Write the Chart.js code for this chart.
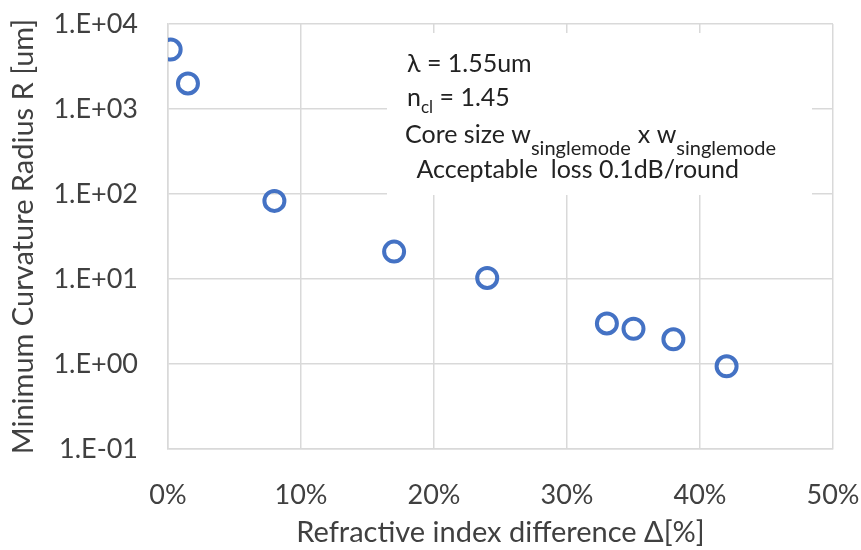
<!DOCTYPE html>
<html>
<head>
<meta charset="utf-8">
<script src="https://cdn.jsdelivr.net/npm/chart.js@4"></script>
<style>
  html, body { margin: 0; padding: 0; background: #fff; }
  #wrap { width: 861px; height: 550px; }
</style>
</head>
<body>
<div id="wrap"><canvas id="grafico"></canvas></div>
<script>
// refractive index difference [%] vs minimum bend radius [um]
const deltaPct = [0.2, 1.5, 8, 17, 24, 33, 35, 38, 42];
const raioMin = [5000, 2000, 83, 21, 10.3, 3.0, 2.6, 1.95, 0.94];
const decadas = [0.1, 1, 10, 100, 1000, 10000];
const ticksX = [0, 10, 20, 30, 40, 50];

const FONTE = 'Lato, "Open Sans", sans-serif';
const COR_TEXTO = '#404040';
const COR_GRADE = '#d9d9d9';

function formatoExp(v) {
    const e = Math.round(Math.log10(v));
    const s = e < 0 ? '-' : '+';
    return '1.E' + s + String(Math.abs(e)).padStart(2, '0');
}

// text box with the simulation conditions (subscripts drawn by hand)
const caixaTexto = {
    id: 'caixaTexto',
    afterDatasetsDraw(chart) {
        const ctx = chart.ctx;
        ctx.save();
        ctx.fillStyle = '#fff';
        ctx.fillRect(387, 33, 425, 162);
        ctx.fillStyle = '#222';
        ctx.textBaseline = 'alphabetic';
        const grande = '25px ' + FONTE;
        const trecho = (partes, x, y) => {
            partes.forEach(p => {
                ctx.font = p.sub ? p.sub + 'px ' + FONTE : grande;
                ctx.fillText(p.t, x, y + (p.sub ? p.dy : 0));
                x += ctx.measureText(p.t).width + (p.gap || 0);
            });
        };
        trecho([{ t: 'λ = 1.55um' }], 407, 72);
        trecho([{ t: 'n' }, { t: 'cl', sub: 17, dy: 7 }, { t: ' = 1.45' }], 407, 106);
        trecho([{ t: 'Core size ' }, { t: 'w' }, { t: 'singlemode', sub: 20, dy: 12, gap: 7 },
                { t: 'x ' }, { t: 'w' }, { t: 'singlemode', sub: 20, dy: 12 }], 405, 143);
        trecho([{ t: ' Acceptable  loss 0.1dB/round' }], 410, 178);
        ctx.restore();
    }
};

const ctx = document.getElementById('grafico').getContext('2d');
new Chart(ctx, {
    type: 'scatter',
    data: {
        datasets: [{
            data: deltaPct.map((x, i) => ({ x: x, y: raioMin[i] })),
            pointStyle: 'circle',
            pointRadius: 10,
            pointHoverRadius: 10,
            borderWidth: 4,
            borderColor: '#4472C4',
            backgroundColor: 'rgba(0,0,0,0)'
        }]
    },
    options: {
        responsive: true,
        maintainAspectRatio: false,
        animation: false,
        layout: { padding: { top: 24, right: 28, left: 0, bottom: 0 } },
        plugins: { legend: { display: false }, tooltip: { enabled: false } },
        scales: {
            x: {
                type: 'linear',
                min: 0, max: 50,
                afterBuildTicks: s => { s.ticks = ticksX.map(v => ({ value: v })); },
                afterFit: s => {
                    s.height = 101;
                    s.paddingLeft = 0;
                    s.paddingRight = 0;
                },
                grid: { color: COR_GRADE, lineWidth: 1.5, drawTicks: false },
                border: { color: COR_GRADE, width: 1.5 },
                ticks: {
                    padding: 30,
                    color: COR_TEXTO,
                    font: { family: FONTE, size: 27 },
                    callback: v => v + '%'
                },
                title: {
                    display: true,
                    text: 'Refractive index difference Δ[%]',
                    color: COR_TEXTO,
                    font: { family: FONTE, size: 29 },
                    padding: { top: 0, bottom: 0 }
                }
            },
            y: {
                type: 'logarithmic',
                min: 0.1, max: 10000,
                afterBuildTicks: s => { s.ticks = decadas.map(v => ({ value: v })); },
                afterFit: s => {
                    s.width = 168;
                    s.paddingTop = 0;
                    s.paddingBottom = 0;
                },
                grid: { color: COR_GRADE, lineWidth: 1.5, drawTicks: false },
                border: { color: COR_GRADE, width: 1.5 },
                ticks: {
                    padding: 30,
                    color: COR_TEXTO,
                    font: { family: FONTE, size: 27 },
                    callback: v => formatoExp(v)
                },
                title: {
                    display: true,
                    text: 'Minimum Curvature Radius R [um]',
                    color: COR_TEXTO,
                    font: { family: FONTE, size: 29 },
                    padding: { top: 6, bottom: 0 }
                }
            }
        }
    },
    plugins: [caixaTexto]
});
</script>
</body>
</html>
